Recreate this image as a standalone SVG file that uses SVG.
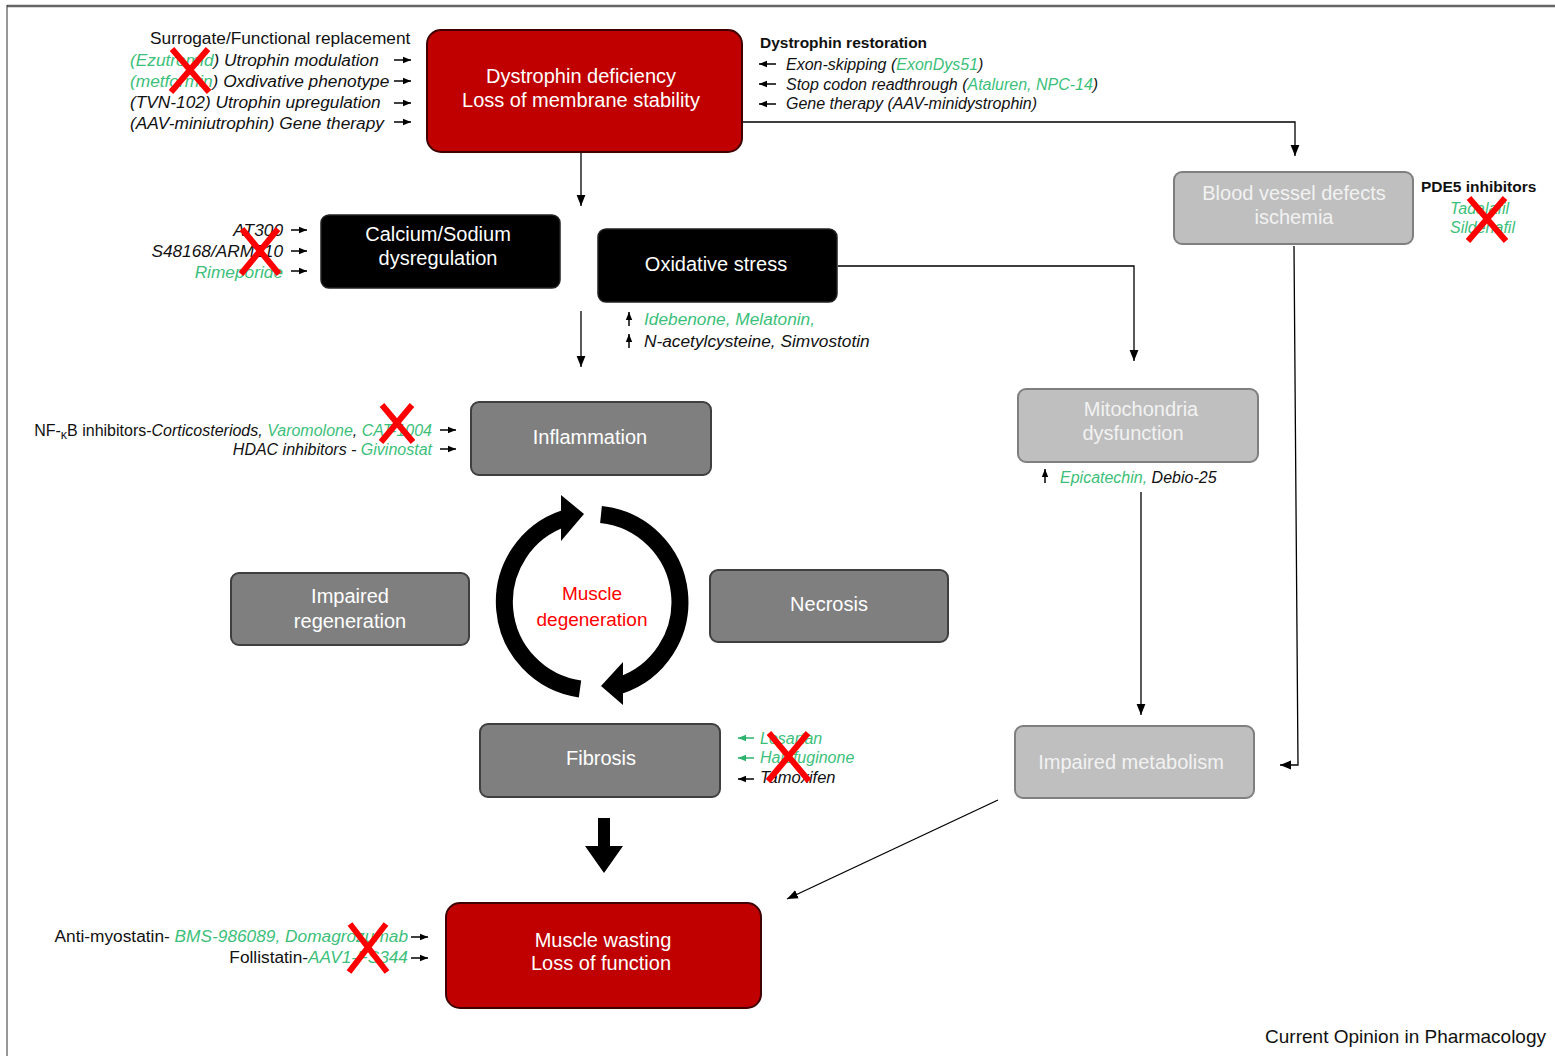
<svg xmlns="http://www.w3.org/2000/svg" width="1555" height="1056" viewBox="0 0 1555 1056">
<defs>
<marker id="ah" viewBox="0 0 10 10" refX="10" refY="5" markerWidth="11" markerHeight="11" markerUnits="userSpaceOnUse" orient="auto"><path d="M0,1 L10,5 L0,9 z" fill="#000"/></marker>
<marker id="sa" viewBox="0 0 10 10" refX="10" refY="5" markerWidth="8" markerHeight="8" markerUnits="userSpaceOnUse" orient="auto"><path d="M0,1 L10,5 L0,9 z" fill="#000"/></marker>
<marker id="sg" viewBox="0 0 10 10" refX="10" refY="5" markerWidth="8" markerHeight="8" markerUnits="userSpaceOnUse" orient="auto"><path d="M0,1 L10,5 L0,9 z" fill="#2db36b"/></marker>
</defs>
<style>
text{font-family:"Liberation Sans",Arial,sans-serif;}
.nt{font-size:20px;fill:#fff;text-anchor:middle;}
.lt{font-size:20px;fill:#f2f2f2;text-anchor:middle;}
.red{fill:#c00000;stroke:#400000;stroke-width:2;}
.blk{fill:#000;stroke:#222;stroke-width:1.5;}
.dg{fill:#7f7f7f;stroke:#3f3f3f;stroke-width:2;}
.lg{fill:#bfbfbf;stroke:#7f7f7f;stroke-width:2;}
.an{font-size:17.3px;fill:#111;}
.it{font-style:italic;}
.g{fill:#3cbf7a;}
.con{stroke:#000;stroke-width:1.3;fill:none;}
.sar{stroke:#000;stroke-width:1.5;fill:none;marker-end:url(#sa);}
.sag{stroke:#2db36b;stroke-width:1.5;fill:none;marker-end:url(#sg);}
.x{stroke:#ff0000;stroke-width:6;stroke-linecap:butt;}
</style>
<rect width="1555" height="1056" fill="#fff"/>
<line x1="7" y1="6" x2="1555" y2="6" stroke="#666" stroke-width="2.5"/>
<line x1="7" y1="5" x2="7" y2="1056" stroke="#333" stroke-width="1"/>

<g id="connectors">
<line class="con" x1="581" y1="153" x2="581" y2="206" marker-end="url(#ah)"/>
<line class="con" x1="581" y1="311" x2="581" y2="367" marker-end="url(#ah)"/>
<polyline class="con" points="743,122 1295,122 1295,156" marker-end="url(#ah)"/>
<polyline class="con" points="838,266 1134,266 1134,361" marker-end="url(#ah)"/>
<polyline class="con" points="1294,246 1298,765 1280,765" marker-end="url(#ah)"/>
<line class="con" x1="1141" y1="492" x2="1141" y2="715" marker-end="url(#ah)"/>
<line class="con" x1="998" y1="800" x2="787" y2="899" marker-end="url(#ah)"/>
<path d="M598,818 H610 V846 H623 L604,873 L585,846 H598 Z" fill="#000"/>
<g id="cycle">
<path d="M580,689 A88,88 0 0 1 564.8,518.3" fill="none" stroke="#000" stroke-width="17"/>
<polygon points="561,495 584,514 561,541" fill="#000"/>
<path d="M601,514.5 A88,88 0 0 1 619.2,685.7" fill="none" stroke="#000" stroke-width="17"/>
<polygon points="623,662 601,686 623,705" fill="#000"/>
</g>
</g>

<g id="dystrophin-deficiency">
<rect class="red" x="427" y="30" width="315" height="122" rx="14"/>
<text class="nt" x="581" y="83">Dystrophin deficiency</text>
<text class="nt" x="581" y="107">Loss of membrane stability</text>
</g>
<g id="calcium">
<rect class="blk" x="321" y="215" width="239" height="73" rx="8"/>
<text class="nt" x="438" y="241">Calcium/Sodium</text>
<text class="nt" x="438" y="265">dysregulation</text>
</g>
<g id="oxidative">
<rect class="blk" x="598" y="229" width="239" height="73" rx="8"/>
<text class="nt" x="716" y="271">Oxidative stress</text>
</g>
<g id="blood-vessel">
<rect class="lg" x="1174" y="172" width="239" height="72" rx="8"/>
<text class="lt" x="1294" y="200">Blood vessel defects</text>
<text class="lt" x="1294" y="224">ischemia</text>
</g>
<g id="mitochondria">
<rect class="lg" x="1018" y="389" width="240" height="73" rx="8"/>
<text class="lt" x="1141" y="416">Mitochondria</text>
<text class="lt" x="1133" y="440">dysfunction</text>
</g>
<g id="inflammation">
<rect class="dg" x="471" y="402" width="240" height="73" rx="8"/>
<text class="nt" x="590" y="444">Inflammation</text>
</g>
<g id="impaired-regeneration">
<rect class="dg" x="231" y="573" width="238" height="72" rx="8"/>
<text class="nt" x="350" y="603">Impaired</text>
<text class="nt" x="350" y="628">regeneration</text>
</g>
<g id="muscle-degeneration">
<text x="592" y="600" font-size="19" fill="#ff0000" text-anchor="middle">Muscle</text>
<text x="592" y="626" font-size="19" fill="#ff0000" text-anchor="middle">degeneration</text>
</g>
<g id="necrosis">
<rect class="dg" x="710" y="570" width="238" height="72" rx="8"/>
<text class="nt" x="829" y="611">Necrosis</text>
</g>
<g id="fibrosis">
<rect class="dg" x="480" y="724" width="240" height="73" rx="8"/>
<text class="nt" x="601" y="765">Fibrosis</text>
</g>
<g id="impaired-metabolism">
<rect class="lg" x="1015" y="726" width="239" height="72" rx="8"/>
<text class="lt" x="1131" y="769">Impaired metabolism</text>
</g>
<g id="muscle-wasting">
<rect class="red" x="446" y="903" width="315" height="105" rx="14"/>
<text class="nt" x="603" y="947">Muscle wasting</text>
<text class="nt" x="601" y="970">Loss of function</text>
</g>

<g id="annotations">
<text class="an" x="150" y="44" font-size="17.6">Surrogate/Functional replacement</text>
<text class="an it" x="130" y="66"><tspan class="g">(Ezutromid</tspan>) Utrophin modulation</text>
<text class="an it" x="130" y="87"><tspan class="g">(metformin</tspan>) Oxdivative phenotype</text>
<text class="an it" x="130" y="108">(TVN-102) Utrophin upregulation</text>
<text class="an it" x="130" y="129">(AAV-miniutrophin) Gene therapy</text>
<line class="sar" x1="394" y1="60" x2="411" y2="60"/>
<line class="sar" x1="394" y1="81" x2="411" y2="81"/>
<line class="sar" x1="394" y1="103" x2="411" y2="103"/>
<line class="sar" x1="394" y1="122" x2="411" y2="122"/>

<text x="760" y="48" font-size="15.5" font-weight="bold" fill="#111">Dystrophin restoration</text>
<text class="it" x="786" y="70" font-size="16" fill="#111">Exon-skipping (<tspan class="g">ExonDys51</tspan>)</text>
<text class="it" x="786" y="90" font-size="16" fill="#111">Stop codon readthrough (<tspan class="g">Ataluren, NPC-14</tspan>)</text>
<text class="it" x="786" y="109" font-size="16" fill="#111">Gene therapy (AAV-minidystrophin)</text>
<line class="sar" x1="776" y1="64" x2="759" y2="64"/>
<line class="sar" x1="776" y1="84" x2="759" y2="84"/>
<line class="sar" x1="776" y1="104" x2="759" y2="104"/>

<text class="an it" x="283" y="236" text-anchor="end">AT300</text>
<text class="an it" x="283" y="257" text-anchor="end">S48168/ARM210</text>
<text class="an it g" x="283" y="278" text-anchor="end">Rimeporide</text>
<line class="sar" x1="291" y1="230" x2="307" y2="230"/>
<line class="sar" x1="291" y1="251" x2="307" y2="251"/>
<line class="sar" x1="291" y1="271" x2="307" y2="271"/>

<text x="1421" y="192" font-size="15.5" font-weight="bold" fill="#111">PDE5 inhibitors</text>
<text class="it g" x="1450" y="214" font-size="16">Tadalafil</text>
<text class="it g" x="1450" y="233" font-size="16">Sildenafil</text>

<line class="sar" x1="629" y1="326" x2="629" y2="312"/>
<line class="sar" x1="629" y1="348" x2="629" y2="334"/>
<text class="an it g" x="644" y="325">Idebenone, Melatonin,</text>
<text class="an it" x="644" y="347">N-acetylcysteine, Simvostotin</text>

<text x="432" y="436" text-anchor="end" font-size="16" fill="#111">NF-<tspan font-size="12.5" dy="3">κ</tspan><tspan dy="-3">B inhibitors-</tspan><tspan class="it">Corticosteriods, </tspan><tspan class="it g">Varomolone</tspan><tspan class="it">, </tspan><tspan class="it g">CAT-1004</tspan></text>
<text class="it" x="432" y="455" text-anchor="end" font-size="16" fill="#111">HDAC inhibitors - <tspan class="g">Givinostat</tspan></text>
<line class="sar" x1="440" y1="430" x2="456" y2="430"/>
<line class="sar" x1="440" y1="449" x2="456" y2="449"/>

<line class="sar" x1="1045" y1="483" x2="1045" y2="469"/>
<text class="it" x="1060" y="483" font-size="16" fill="#111"><tspan class="g">Epicatechin, </tspan>Debio-25</text>

<line class="sag" x1="754" y1="738" x2="738" y2="738"/>
<line class="sag" x1="754" y1="758" x2="738" y2="758"/>
<line class="sar" x1="754" y1="779" x2="738" y2="779"/>
<text class="it g" x="760" y="744" font-size="16">Losartan</text>
<text class="it g" x="760" y="763" font-size="16">Halofuginone</text>
<text class="it" x="760" y="783" font-size="16.5" fill="#111">Tamoxifen</text>

<text class="an" x="408" y="942" text-anchor="end" font-size="17.6">Anti-myostatin- <tspan class="it g">BMS-986089, Domagrozumab</tspan></text>
<text class="an" x="408" y="963" text-anchor="end" font-size="17.6">Follistatin-<tspan class="it g">AAV1-FS344</tspan></text>
<line class="sar" x1="411" y1="937" x2="428" y2="937"/>
<line class="sar" x1="411" y1="958" x2="428" y2="958"/>

<text x="1546" y="1043" font-size="19" fill="#111" text-anchor="end">Current Opinion in Pharmacology</text>
</g>

<g id="red-crosses">
<path class="x" d="M172,49 L209,92 M208,49 L171,92"/>
<path class="x" d="M242,229 L279,274 M278,229 L241,274"/>
<path class="x" d="M1469,198 L1506,241 M1505,198 L1468,241"/>
<path class="x" d="M382,405 L413,442 M412,405 L381,442"/>
<path class="x" d="M769,733 L809,781 M808,733 L768,781"/>
<path class="x" d="M350,924 L387,972 M386,924 L349,972"/>
</g>
</svg>
